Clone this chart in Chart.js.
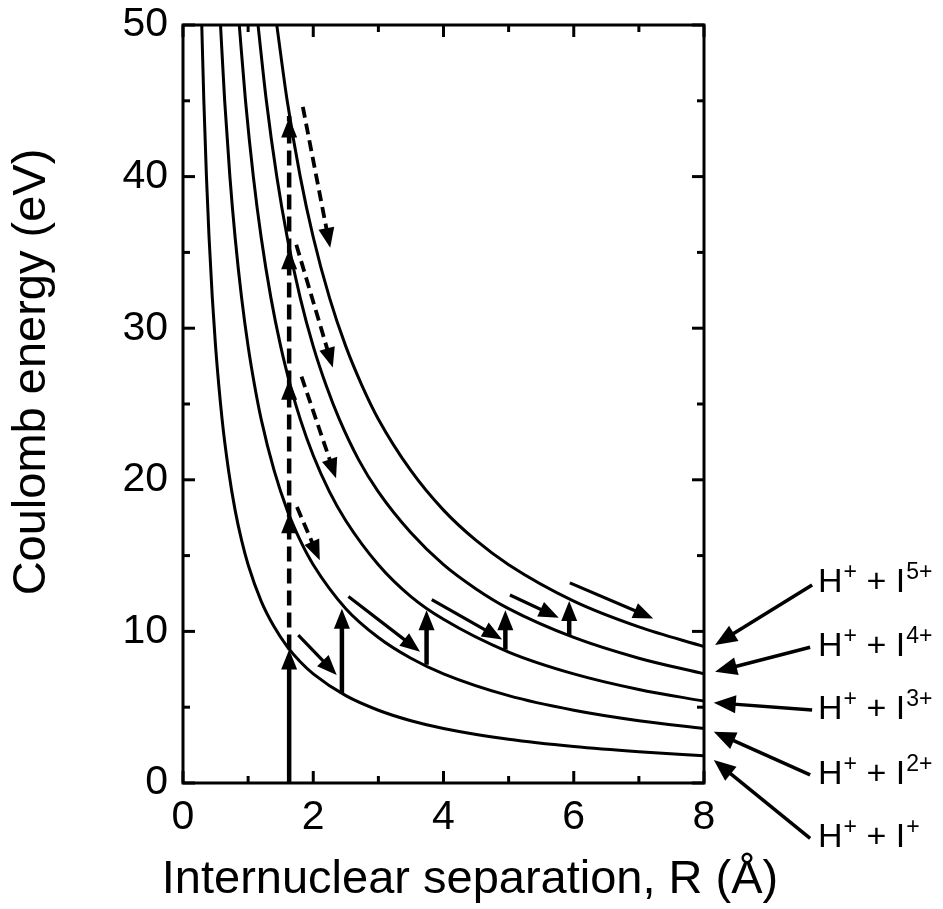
<!DOCTYPE html>
<html>
<head>
<meta charset="utf-8">
<script src="https://cdn.jsdelivr.net/npm/chart.js@4.4.1/dist/chart.umd.min.js"></script>
<style>
  html, body { margin: 0; padding: 0; background: #fff; }
  #c { display: block; }
</style>
</head>
<body>
<canvas id="c" width="943" height="909"></canvas>
<script>
// ---- Data ----
// Coulomb curves H+ + I^q+ (R in Å, energy in eV)
const R1 = [0.288, 0.32, 0.36, 0.40, 0.45, 0.50, 0.60, 0.70, 0.80, 0.90, 1.00, 1.20, 1.40, 1.60, 1.80, 2.00, 2.50, 3.00, 3.50, 4.00, 5.00, 6.00, 7.00, 8.00];
const E1 = [50.0, 45.0, 40.0, 36.0, 32.0, 28.8, 24.0, 20.6, 18.0, 16.0, 14.4, 12.0, 10.3, 9.00, 8.00, 7.20, 5.76, 4.80, 4.11, 3.60, 2.88, 2.40, 2.06, 1.80];
const R2 = [0.576, 0.64, 0.72, 0.80, 0.90, 1.00, 1.10, 1.20, 1.40, 1.60, 1.80, 2.00, 2.50, 3.00, 3.50, 4.00, 5.00, 6.00, 7.00, 8.00];
const E2 = [50.0, 45.0, 40.0, 36.0, 32.0, 28.8, 26.2, 24.0, 20.6, 18.0, 16.0, 14.4, 11.5, 9.60, 8.23, 7.20, 5.76, 4.80, 4.11, 3.60];
const R3 = [0.864, 0.96, 1.08, 1.20, 1.35, 1.50, 1.65, 1.80, 2.00, 2.25, 2.50, 3.00, 3.50, 4.00, 5.00, 6.00, 7.00, 8.00];
const E3 = [50.0, 45.0, 40.0, 36.0, 32.0, 28.8, 26.2, 24.0, 21.6, 19.2, 17.3, 14.4, 12.3, 10.8, 8.64, 7.20, 6.17, 5.40];
const R4 = [1.152, 1.28, 1.44, 1.60, 1.80, 2.00, 2.20, 2.40, 2.70, 3.00, 3.50, 4.00, 4.50, 5.00, 6.00, 7.00, 8.00];
const E4 = [50.0, 45.0, 40.0, 36.0, 32.0, 28.8, 26.2, 24.0, 21.3, 19.2, 16.5, 14.4, 12.8, 11.5, 9.60, 8.23, 7.20];
const R5 = [1.44, 1.60, 1.80, 2.00, 2.25, 2.50, 2.75, 3.00, 3.50, 4.00, 4.50, 5.00, 6.00, 7.00, 8.00];
const E5 = [50.0, 45.0, 40.0, 36.0, 32.0, 28.8, 26.2, 24.0, 20.6, 18.0, 16.0, 14.4, 12.0, 10.3, 9.00];

// Solid vertical (ionization) arrows: R, energy from, energy to
const upR    = [1.63, 2.44, 3.74, 4.95, 5.93];
const upFrom = [0.0, 5.9, 7.8, 8.8, 9.7];
const upTo   = [8.8, 11.5, 11.4, 11.4, 12.0];

// Dashed vertical arrow: R, start, end, and arrowhead levels
const dashUpR = 1.63;
const dashUpFrom = 8.8;
const dashUpTo = 44.0;
const dashUpHeads = [17.8, 26.6, 35.2, 43.9];

// Dashed diagonal arrows (dissociation along curve): start R/E -> end R/E
const dDiagR0 = [1.84, 1.74, 1.82, 1.75];
const dDiagE0 = [44.6, 35.5, 26.8, 18.2];
const dDiagR1 = [2.26, 2.30, 2.35, 2.10];
const dDiagE1 = [35.3, 27.4, 20.1, 14.7];

// Solid diagonal arrows
const sDiagR0 = [1.77, 2.54, 3.82, 5.02, 5.94];
const sDiagE0 = [9.76, 12.3, 12.1, 12.4, 13.2];
const sDiagR1 = [2.36, 3.64, 4.90, 5.77, 7.22];
const sDiagE1 = [7.12, 8.66, 9.47, 10.9, 10.85];

// Channel labels on the right (charge of iodine) with pointer arrows
const labelCharge = ['5+', '4+', '3+', '2+', '+'];
const labelR = 9.75;
const labelE = [13.19, 8.97, 4.82, 0.53, -3.63];
const ptrR0 = [9.66, 9.63, 9.66, 9.63, 9.63];
const ptrE0 = [13.06, 8.95, 4.82, 0.53, -3.65];
const ptrR1 = [8.17, 8.17, 8.15, 8.15, 8.15];
const ptrE1 = [9.10, 7.34, 5.30, 3.38, 1.52];

// Axis ticks
const xMajorTicks = [0, 2, 4, 6, 8];
const xMinorTicks = [1, 3, 5, 7];
const yMajorTicks = [0, 10, 20, 30, 40, 50];
const yMinorTicks = [5, 15, 25, 35, 45];

const xTitle = 'Internuclear separation, R (Å)';
const yTitle = 'Coulomb energy (eV)';

// ---- Build ----
const FONT = '"Liberation Sans", Arial, Helvetica, sans-serif';
function pts(R, E) { return R.map((r, i) => ({ x: r, y: E[i] })); }
const curves = [[R1, E1], [R2, E2], [R3, E3], [R4, E4], [R5, E5]];

function arrowHead(ctx, x0, y0, x1, y1, len, halfW) {
  const a = Math.atan2(y1 - y0, x1 - x0);
  const bx = x1 - len * Math.cos(a), by = y1 - len * Math.sin(a);
  ctx.beginPath();
  ctx.moveTo(x1, y1);
  ctx.lineTo(bx + halfW * Math.sin(a), by - halfW * Math.cos(a));
  ctx.lineTo(bx - halfW * Math.sin(a), by + halfW * Math.cos(a));
  ctx.closePath();
  ctx.fill();
}
function arrow(ctx, x0, y0, x1, y1, lw, len, halfW, dash) {
  const a = Math.atan2(y1 - y0, x1 - x0);
  ctx.save();
  ctx.lineWidth = lw;
  ctx.setLineDash(dash || []);
  ctx.beginPath();
  ctx.moveTo(x0, y0);
  ctx.lineTo(x1 - (len * 0.6) * Math.cos(a), y1 - (len * 0.6) * Math.sin(a));
  ctx.stroke();
  ctx.setLineDash([]);
  arrowHead(ctx, x0, y0, x1, y1, len, halfW);
  ctx.restore();
}

const decor = {
  id: 'decor',
  afterDatasetsDraw(chart) {
    const ctx = chart.ctx, xs = chart.scales.x, ys = chart.scales.y;
    const X = v => xs.getPixelForValue(v), Y = v => ys.getPixelForValue(v);
    ctx.save();
    ctx.strokeStyle = '#000';
    ctx.fillStyle = '#000';
    ctx.lineCap = 'butt';

    // dashed vertical line
    ctx.save();
    ctx.lineWidth = 4.5;
    ctx.setLineDash([15, 7]);
    ctx.beginPath();
    ctx.moveTo(X(dashUpR), Y(dashUpFrom));
    ctx.lineTo(X(dashUpR), Y(dashUpTo));
    ctx.stroke();
    ctx.restore();
    dashUpHeads.forEach(e => arrowHead(ctx, X(dashUpR), Y(e) + 10, X(dashUpR), Y(e), 20, 8));

    // solid vertical arrows
    upR.forEach((r, i) => arrow(ctx, X(r), Y(upFrom[i]), X(r), Y(upTo[i]), 4.5, 20, 8));

    // dashed diagonal arrows
    dDiagR0.forEach((r, i) => arrow(ctx, X(r), Y(dDiagE0[i]), X(dDiagR1[i]), Y(dDiagE1[i]), 3.8, 20, 8, [11, 6]));

    // solid diagonal arrows
    sDiagR0.forEach((r, i) => arrow(ctx, X(r), Y(sDiagE0[i]), X(sDiagR1[i]), Y(sDiagE1[i]), 3.2, 20, 8));

    // label pointer arrows
    ptrR0.forEach((r, i) => arrow(ctx, X(r), Y(ptrE0[i]), X(ptrR1[i]), Y(ptrE1[i]), 3.5, 22, 9));

    // labels
    ctx.textBaseline = 'middle';
    ctx.textAlign = 'left';
    labelCharge.forEach((q, i) => {
      let x = X(labelR);
      const y = Y(labelE[i]);
      const big = '34px ' + FONT, small = '23px ' + FONT;
      ctx.font = big; ctx.fillText('H', x, y); x += ctx.measureText('H').width;
      ctx.font = small; ctx.fillText('+', x + 1, y - 10); x += ctx.measureText('+').width + 1;
      ctx.font = big; ctx.fillText(' + I', x, y); x += ctx.measureText(' + I').width;
      ctx.font = small; ctx.fillText(q, x + 1, y - 10);
    });
    ctx.restore();
  },
  afterDraw(chart) {
    const ctx = chart.ctx, xs = chart.scales.x, ys = chart.scales.y;
    const a = chart.chartArea;
    const X = v => xs.getPixelForValue(v), Y = v => ys.getPixelForValue(v);
    ctx.save();
    ctx.strokeStyle = '#000';
    ctx.lineWidth = 3;
    // frame
    ctx.strokeRect(a.left, a.top, a.right - a.left, a.bottom - a.top);
    // inward ticks on all four sides
    const tick = (x0, y0, x1, y1) => { ctx.beginPath(); ctx.moveTo(x0, y0); ctx.lineTo(x1, y1); ctx.stroke(); };
    xMajorTicks.forEach(v => { tick(X(v), a.bottom, X(v), a.bottom - 12); tick(X(v), a.top, X(v), a.top + 12); });
    xMinorTicks.forEach(v => { tick(X(v), a.bottom, X(v), a.bottom - 7); tick(X(v), a.top, X(v), a.top + 7); });
    yMajorTicks.forEach(v => { tick(a.left, Y(v), a.left + 12, Y(v)); tick(a.right, Y(v), a.right - 12, Y(v)); });
    yMinorTicks.forEach(v => { tick(a.left, Y(v), a.left + 7, Y(v)); tick(a.right, Y(v), a.right - 7, Y(v)); });

    // axis titles
    ctx.fillStyle = '#000';
    ctx.font = '47px ' + FONT;
    ctx.textAlign = 'center';
    ctx.textBaseline = 'middle';
    ctx.fillText(xTitle, 470, 880);
    ctx.save();
    ctx.translate(32, 372);
    ctx.rotate(-Math.PI / 2);
    ctx.fillText(yTitle, 0, 0);
    ctx.restore();
    ctx.restore();
  }
};

new Chart(document.getElementById('c'), {
  type: 'scatter',
  data: {
    datasets: curves.map(([R, E], i) => ({
      label: 'H+ + I' + labelCharge[4 - i],
      data: pts(R, E),
      showLine: true,
      borderColor: '#000',
      backgroundColor: '#000',
      borderWidth: 3,
      pointRadius: 0,
      cubicInterpolationMode: 'monotone'
    }))
  },
  options: {
    responsive: false,
    maintainAspectRatio: false,
    devicePixelRatio: 1,
    animation: false,
    layout: { padding: { left: 0, top: 25, right: 239, bottom: 0 } },
    plugins: { legend: { display: false }, tooltip: { enabled: false } },
    scales: {
      x: {
        type: 'linear', min: 0, max: 8,
        afterFit: s => { s.height = 126; s.paddingLeft = 0; s.paddingRight = 0; },
        afterBuildTicks: s => { s.ticks = xMajorTicks.map(v => ({ value: v })); },
        ticks: { color: '#000', font: { family: FONT, size: 41 }, padding: 10, maxRotation: 0 },
        grid: { display: true, drawOnChartArea: false, drawTicks: false },
        border: { display: false }
      },
      y: {
        type: 'linear', min: 0, max: 50,
        afterFit: s => { s.width = 183; s.paddingTop = 0; s.paddingBottom = 0; },
        afterBuildTicks: s => { s.ticks = yMajorTicks.map(v => ({ value: v })); },
        ticks: { color: '#000', font: { family: FONT, size: 41 }, padding: 15 },
        grid: { display: true, drawOnChartArea: false, drawTicks: false },
        border: { display: false }
      }
    }
  },
  plugins: [decor]
});
</script>
</body>
</html>
